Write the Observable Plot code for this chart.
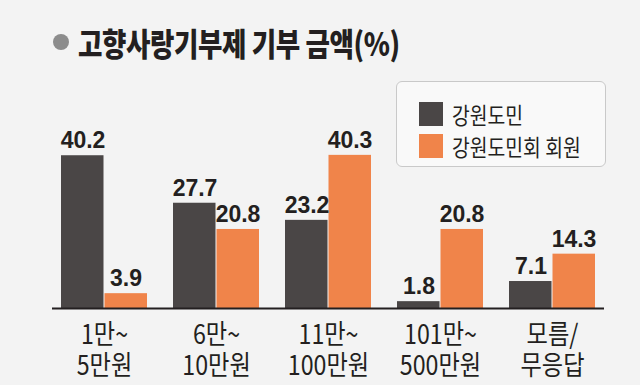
<!DOCTYPE html>
<html>
<head>
<meta charset="utf-8">
<script src="https://cdn.jsdelivr.net/npm/d3@7"></script>
<script src="https://cdn.jsdelivr.net/npm/@observablehq/plot@0.6"></script>
<style>
  html, body { margin: 0; padding: 0; }
  body { width: 640px; height: 385px; overflow: hidden; background: #f3f3f3; }
  #wrap { position: relative; width: 640px; height: 385px; background: #f3f3f3; font-family: "Noto Sans CJK KR", sans-serif; }
  #chart { position: absolute; left: 0; top: 0; }
  #title { position: absolute; left: 53px; top: 21px; height: 42px; display: flex; align-items: center; white-space: nowrap; }
  #title .dot { width: 16px; height: 16px; border-radius: 50%; background: #8c8c8c; margin-right: 9px; }
  #title .txt { font-size: 32px; font-weight: 900; color: #231f20; transform: scaleX(0.83); transform-origin: left center; letter-spacing: -0.5px; }
  #legend { position: absolute; left: 396px; top: 81px; width: 208px; height: 84px; border: 1px solid #c9c9c9; border-radius: 6px; background: #f9f9f9; }
  .li { position: absolute; left: 22px; display: flex; align-items: center; white-space: nowrap; }
  .sw { width: 24px; height: 24px; margin-right: 9px; }
  .lt { font-size: 23px; color: #231f20; transform: scaleX(0.84); transform-origin: left center; }
</style>
</head>
<body>
<div id="wrap">
  <div id="chart"></div>
  <div id="title"><div class="dot"></div><div class="txt">고향사랑기부제 기부 금액(%)</div></div>
  <div id="legend"></div>
</div>
<script>
const categories = ["1만~5만원", "6만~10만원", "11만~100만원", "101만~500만원", "모름/무응답"];
const tickLine1 = ["1만~", "6만~", "11만~", "101만~", "모름/"];
const tickLine2 = ["5만원", "10만원", "100만원", "500만원", "무응답"];
const seriesNames = ["강원도민", "강원도민회 회원"];
const residents = [40.2, 27.7, 23.2, 1.8, 7.1];
const members = [3.9, 20.8, 40.3, 20.8, 14.3];
const colors = ["#4a4646", "#f0844a"];

const data = [];
categories.forEach((c, i) => {
  data.push({cat: c, series: seriesNames[0], value: residents[i]});
  data.push({cat: c, series: seriesNames[1], value: members[i]});
});
const labelData = categories.map((c, i) => ({cat: c, l1: tickLine1[i], l2: tickLine2[i]}));

const A = data.filter(d => d.series === seriesNames[0]);
const B = data.filter(d => d.series === seriesNames[1]);

const valueStyle = {fontSize: 23, fontWeight: "bold", fill: "#231f20", fontFamily: "Liberation Sans, Arial, sans-serif"};
const catStyle = {fontSize: 27, fill: "#231f20", fontFamily: "Noto Sans CJK KR"};

const plot = Plot.plot({
  width: 640,
  height: 385,
  marginLeft: 52,
  marginRight: 36,
  marginTop: 137,
  marginBottom: 77,
  style: {background: "transparent", overflow: "visible"},
  x: {domain: categories, paddingInner: 0.232, paddingOuter: 0.08, axis: null},
  y: {domain: [0, 45], axis: null},
  marks: [
    Plot.barY(A, {x: "cat", y: "value", fill: colors[0], insetRight: 43.5}),
    Plot.barY(B, {x: "cat", y: "value", fill: colors[1], insetLeft: 43.5}),
    Plot.text(A, {x: "cat", y: "value", text: d => d.value.toFixed(1), dx: -21.5, dy: -15, ...valueStyle}),
    Plot.text(B, {x: "cat", y: "value", text: d => d.value.toFixed(1), dx: 21.5, dy: -15, ...valueStyle}),
    Plot.ruleY([0], {stroke: "#231f20", strokeWidth: 2}),
    Plot.text(labelData, {x: "cat", y: 0, text: "l1", dy: 27, ...catStyle}),
    Plot.text(labelData, {x: "cat", y: 0, text: "l2", dy: 58, ...catStyle})
  ]
});
document.getElementById("chart").appendChild(plot);

// condense category labels
plot.querySelectorAll('g[font-size="27"] text').forEach(t => {
  const tr = t.getAttribute("transform") || "";
  t.setAttribute("transform", tr + " scale(0.86,1)");
});

const legend = document.getElementById("legend");
seriesNames.forEach((s, i) => {
  const row = document.createElement("div");
  row.className = "li";
  row.style.top = (15 + i * 32) + "px";
  row.innerHTML = `<div class="sw" style="background:${colors[i]}"></div><div class="lt">${s}</div>`;
  legend.appendChild(row);
});
</script>
</body>
</html>
